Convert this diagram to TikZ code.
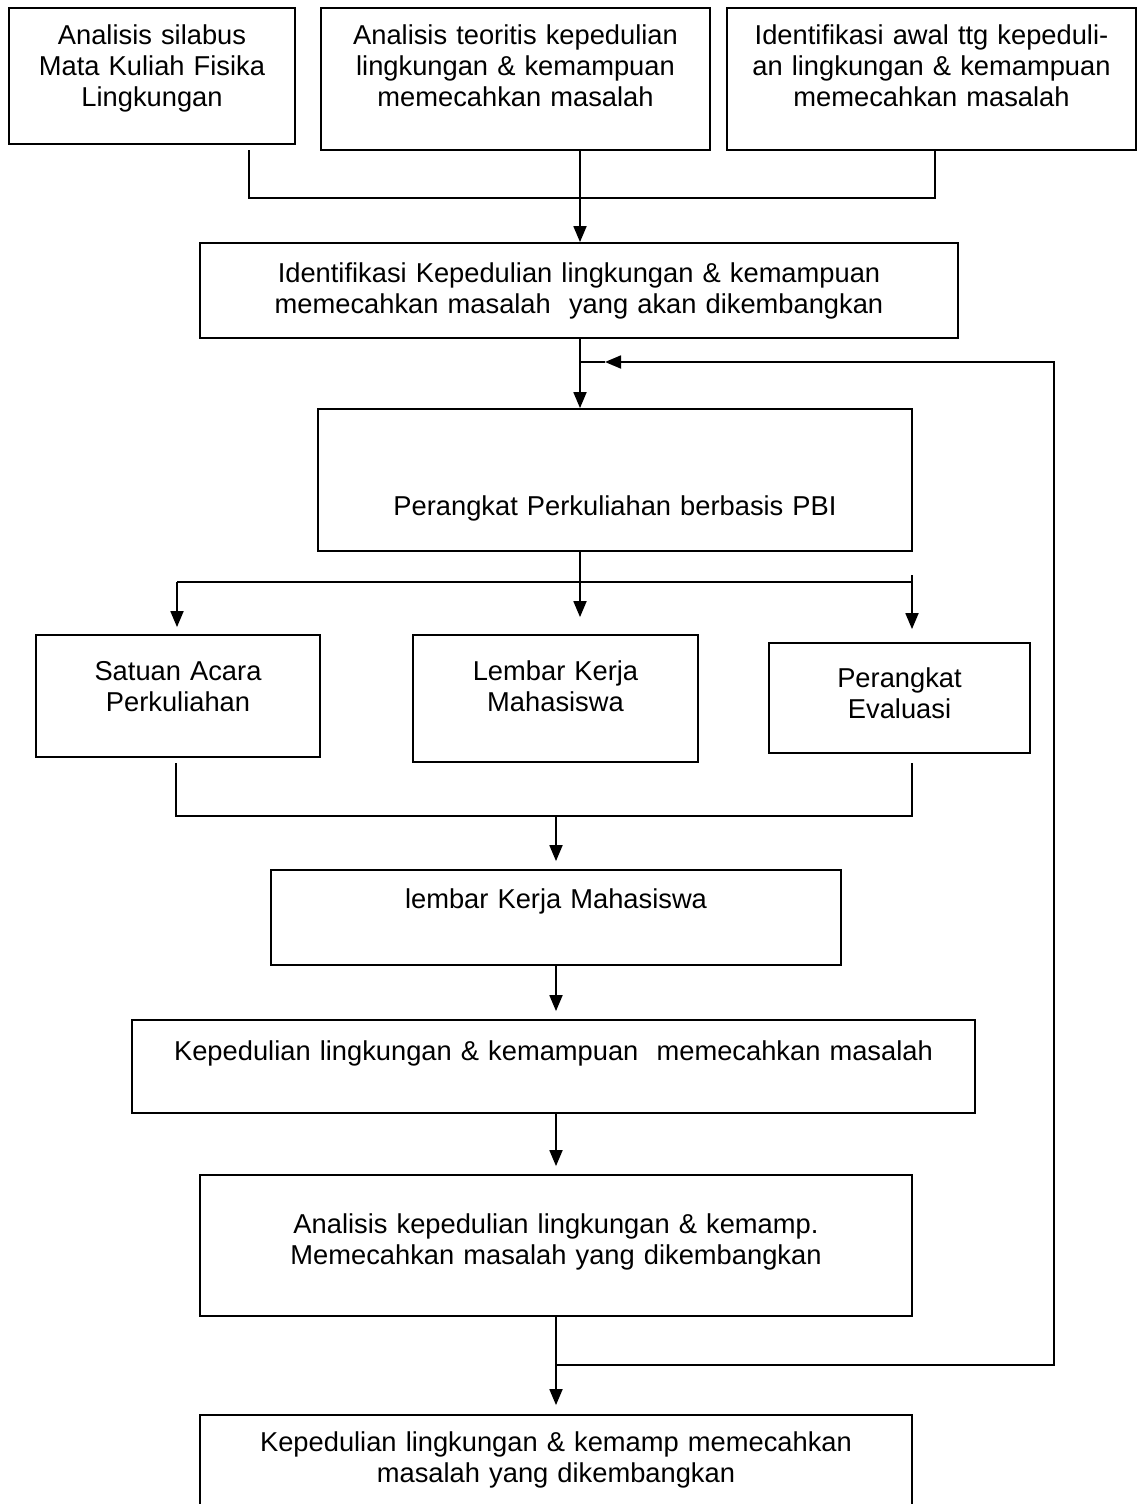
\documentclass[tikz,border=0pt]{standalone}
\usepackage{fontspec}
\setmainfont{Liberation Sans}
\usetikzlibrary{arrows.meta,positioning,calc}

\begin{document}
\begin{tikzpicture}[x=0.5pt, y=-0.5pt]
    \tikzstyle{block} = [draw, line width=0.9pt, rectangle, inner sep=0pt, anchor=base, align=center, font=\fontsize{13.65pt}{15.5pt}\selectfont]
    \tikzstyle{line} = [draw, line width=0.9pt]
    \tikzstyle{arrow} = [line, -{Triangle[length=8pt, width=6.5pt]}]
    \useasboundingbox (0,0) rectangle (1137,1504);

    % Nodes
    \node [block, text width=143pt, text height=18.5pt, text depth=49.5pt] (silabus) at (152,45) {Analisis silabus\\ Mata Kuliah Fisika\\ Lingkungan};
    \node [block, text width=194.5pt, text height=18.5pt, text depth=52.5pt] (teoritis) at (515.5,45) {Analisis teoritis kepedulian\\ lingkungan \& kemampuan\\ memecahkan masalah};
    \node [block, text width=204.5pt, text height=18.5pt, text depth=52.5pt] (awal) at (931.5,45) {Identifikasi awal ttg kepeduli-\\ an lingkungan \& kemampuan\\ memecahkan masalah};
    \node [block, text width=379pt, text height=19.5pt, text depth=28pt] (identifikasi) at (579,282) {Identifikasi Kepedulian lingkungan \& kemampuan\\ memecahkan masalah~ yang akan dikembangkan};
    \node [block, text width=297pt, text height=53pt, text depth=18pt] (pbi) at (615,515) {Perangkat Perkuliahan berbasis PBI};
    \node [block, text width=142pt, text height=22.5pt, text depth=38.5pt] (sap) at (178,680) {Satuan Acara\\ Perkuliahan};
    \node [block, text width=142.5pt, text height=22.5pt, text depth=41pt] (lkm) at (555.5,680) {Lembar Kerja\\ Mahasiswa};
    \node [block, text width=130.5pt, text height=22pt, text depth=33pt] (evaluasi) at (899.5,687) {Perangkat\\ Evaluasi};
    \node [block, text width=285pt, text height=19pt, text depth=28.5pt] (lembar) at (556,908) {lembar Kerja Mahasiswa};
    \node [block, text width=421.5pt, text height=20pt, text depth=26.5pt] (kepedulian) at (553.5,1060) {Kepedulian lingkungan \& kemampuan~ memecahkan masalah};
    \node [block, text width=356pt, text height=29pt, text depth=41.5pt] (analisis) at (556,1233) {Analisis kepedulian lingkungan \& kemamp.\\ Memecahkan masalah yang dikembangkan};
    \node [block, text width=356pt, text height=18pt, text depth=39.5pt] (hasil) at (556,1451) {Kepedulian lingkungan \& kemamp memecahkan\\ masalah yang dikembangkan};

    % Coordinates
    \coordinate (spine) at (580,0);
    \coordinate (lspine) at (556,0);
    \coordinate (topl) at (249,150);
    \coordinate (topr) at (935,150);
    \coordinate (topjoin) at (580,198);
    \coordinate (fbjoin) at (556,1365);
    \coordinate (fbcorner) at (1054,362);
    \coordinate (fbtip) at (605,362);
    \coordinate (splitl) at (177,582);
    \coordinate (splitr) at (912,582);
    \coordinate (splitrtop) at (912,575);
    \coordinate (botl) at (176,763);
    \coordinate (botr) at (912,763);
    \coordinate (botjoin) at (556,816);

    % Paths
    \draw [line] (topl) |- (topjoin) -| (topr);
    \draw [arrow] (teoritis.south -| spine) -- (identifikasi.north -| spine);
    \draw [arrow] (identifikasi.south -| spine) -- (pbi.north -| spine);
    \draw [arrow] (fbjoin) -| (fbcorner) -- (fbtip);
    \draw [line] (fbtip) -- (spine |- fbtip);
    \draw [arrow, shorten >=8.5pt] (pbi.south -| spine) -- (lkm.north -| spine);
    \draw [line] (splitl) -- (splitr);
    \draw [arrow, shorten >=3.5pt] (splitl) -- (sap.north -| splitl);
    \draw [arrow, shorten >=6.5pt] (splitrtop) -- (evaluasi.north -| splitrtop);
    \draw [line] (botl) |- (botjoin) -| (botr);
    \draw [arrow, shorten >=4pt] (botjoin) -- (lembar.north -| botjoin);
    \draw [arrow, shorten >=4pt] (lembar.south -| lspine) -- (kepedulian.north -| lspine);
    \draw [arrow, shorten >=4pt] (kepedulian.south -| lspine) -- (analisis.north -| lspine);
    \draw [arrow, shorten >=4.5pt] (analisis.south -| lspine) -- (hasil.north -| lspine);
\end{tikzpicture}
\end{document}
